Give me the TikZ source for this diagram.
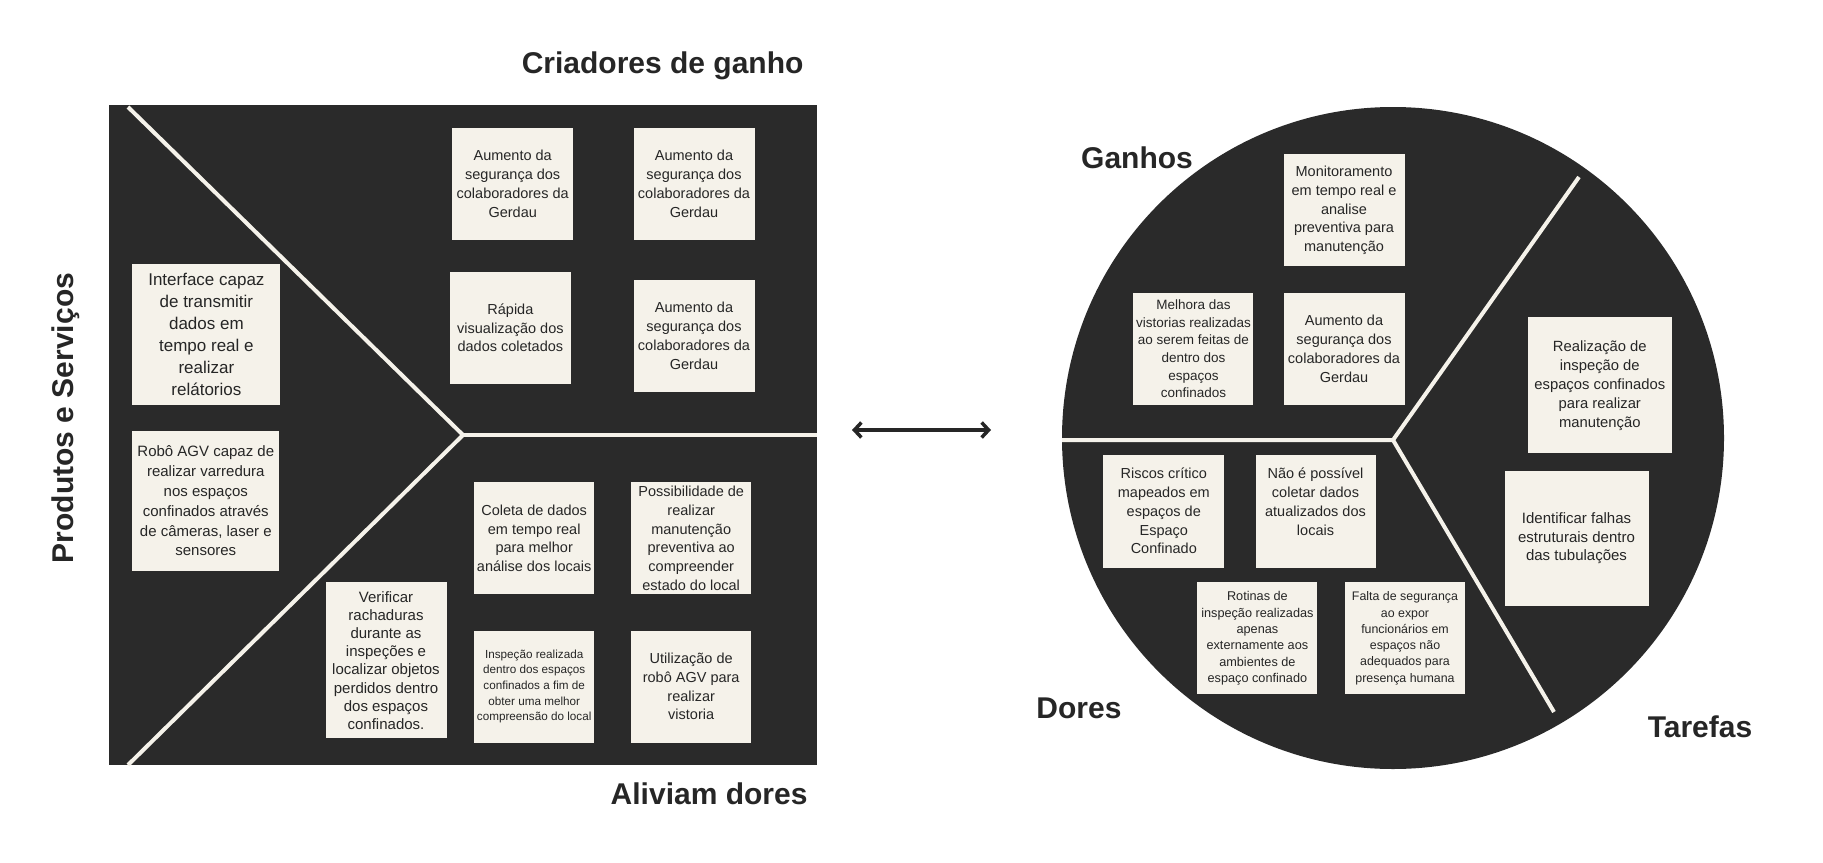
\documentclass[tikz,border=0pt]{standalone}
\usepackage{fontspec}
\setmainfont{Liberation Sans}
\usepackage{tikz}
\usetikzlibrary{positioning,arrows.meta}

\definecolor{canvasdark}{HTML}{2A2A2A}
\definecolor{cardcream}{HTML}{F5F2EA}
\definecolor{titleink}{HTML}{262626}

\begin{document}
\begin{tikzpicture}[x=1pt, y=-1pt,
    card/.style={fill=cardcream, text=titleink, align=center, inner sep=2pt,
        minimum width=121pt, minimum height=112pt,
        font=\fontsize{14.5}{18.8}\selectfont},
    split/.style={draw=cardcream, line width=4pt},
    heading/.style={text=titleink, font=\fontsize{30}{36}\selectfont\bfseries}]
    \useasboundingbox (0,0) rectangle (1823,862);

    % Left panel: product / value map
    \fill[canvasdark] (109,105) rectangle (817,765);
    \draw[split] (128,107) -- (463,435) -- (128,765);
    \draw[split] (463,435) -- (817,435);

    \node[heading, anchor=east] (criadores) at (807,66) {Criadores de ganho};
    \node[heading, anchor=east] (aliviam) at (811,794) {Aliviam dores};
    \node[heading, rotate=90] (produtos) at (66,418) {Produtos e Serviços};

    % Gain creators
    \node[card] (ganhoA) at (512.7,183.7) {Aumento da\\segurança dos\\colaboradores da\\Gerdau};
    \node[card] (ganhoB) at (694,183.7) {Aumento da\\segurança dos\\colaboradores da\\Gerdau};
    \node[card] (rapida) at (510.4,327.9) {Rápida\\visualização dos\\dados coletados};
    \node[card] (ganhoC) at (694,336) {Aumento da\\segurança dos\\colaboradores da\\Gerdau};

    % Products and services
    \node[card, minimum width=148pt, minimum height=141pt, font=\fontsize{17}{22}\selectfont] (interface) at (206.4,334.2)
        {Interface capaz\\de transmitir\\dados em\\tempo real e\\realizar\\relátorios};
    \node[card, minimum width=147pt, minimum height=140pt, font=\fontsize{15}{19.8}\selectfont] (robo) at (205.8,501)
        {Robô AGV capaz de\\realizar varredura\\nos espaços\\confinados através\\de câmeras, laser e\\sensores};

    % Pain relievers
    \node[card, minimum height=156pt, font=\fontsize{15}{18.2}\selectfont] (verificar) at (386,660.4)
        {Verificar\\rachaduras\\durante as\\inspeções e\\localizar objetos\\perdidos dentro\\dos espaços\\confinados.};
    \node[card, minimum width=120pt] (coleta) at (534.2,538.3) {Coleta de dados\\em tempo real\\para melhor\\análise dos locais};
    \node[card, minimum width=120pt, inner ysep=0pt] (possib) at (691.2,538.3)
        {Possibilidade de\\realizar\\manutenção\\preventiva ao\\compreender\\estado do local};
    \node[card, minimum width=120pt, font=\fontsize{11.7}{15.7}\selectfont] (inspecao) at (534.2,686.5)
        {Inspeção realizada\\dentro dos espaços\\confinados a fim de\\obter uma melhor\\compreensão do local};
    \node[card, minimum width=120pt] (utilizacao) at (691.2,686.5) {Utilização de\\robô AGV para\\realizar\\vistoria};

    % Link between the two maps
    \coordinate (arrowL) at (852,430);
    \coordinate (arrowR) at (991,430);
    \draw[{Straight Barb[length=7pt,width=15pt]}-{Straight Barb[length=7pt,width=15pt]}, line width=3.5pt, titleink] (arrowL) -- (arrowR);

    % Right panel: customer profile
    \fill[canvasdark] (1393,438) circle[radius=331pt];
    \draw[split] (1062,440) -- (1393,440) -- (1579,177);
    \draw[split] (1393,440) -- (1554,712);

    \node[heading] (ganhos) at (1137,158) {Ganhos};
    \node[heading] (dores) at (1079,708) {Dores};
    \node[heading] (tarefas) at (1700,727) {Tarefas};

    % Gains
    \node[card] (monitor) at (1344,210.4) {Monitoramento\\em tempo real e\\analise\\preventiva para\\manutenção};
    \node[card, minimum width=120pt, font=\fontsize{13.5}{17.7}\selectfont] (melhora) at (1193.4,348.8)
        {Melhora das\\vistorias realizadas\\ao serem feitas de\\dentro dos\\espaços\\confinados};
    \node[card] (ganhoD) at (1344,348.8) {Aumento da\\segurança dos\\colaboradores da\\Gerdau};

    % Jobs
    \node[card, minimum width=144pt, minimum height=136pt, font=\fontsize{14.8}{19}\selectfont] (realizacao) at (1599.8,385.4)
        {Realização de\\inspeção de\\espaços confinados\\para realizar\\manutenção};
    \node[card, minimum width=144pt, minimum height=135pt, font=\fontsize{15}{18.8}\selectfont] (identificar) at (1576.5,538.3)
        {Identificar falhas\\estruturais dentro\\das tubulações};

    % Pains
    \node[card, minimum height=113pt] (riscos) at (1163.8,511) {Riscos crítico\\mapeados em\\espaços de\\Espaço\\Confinado};
    \node[card, minimum width=120pt, minimum height=113pt] (naoposs) at (1315.5,511)
        {Não é possível\\coletar dados\\atualizados dos\\locais\\\phantom{x}};
    \node[card, minimum width=120pt, font=\fontsize{12.7}{16.3}\selectfont] (rotinas) at (1257.4,638.3)
        {Rotinas de\\inspeção realizadas\\apenas\\externamente aos\\ambientes de\\espaço confinado};
    \node[card, minimum width=120pt, font=\fontsize{12.4}{16.3}\selectfont] (falta) at (1405,638.3)
        {Falta de segurança\\ao expor\\funcionários em\\espaços não\\adequados para\\presença humana};
\end{tikzpicture}
\end{document}
